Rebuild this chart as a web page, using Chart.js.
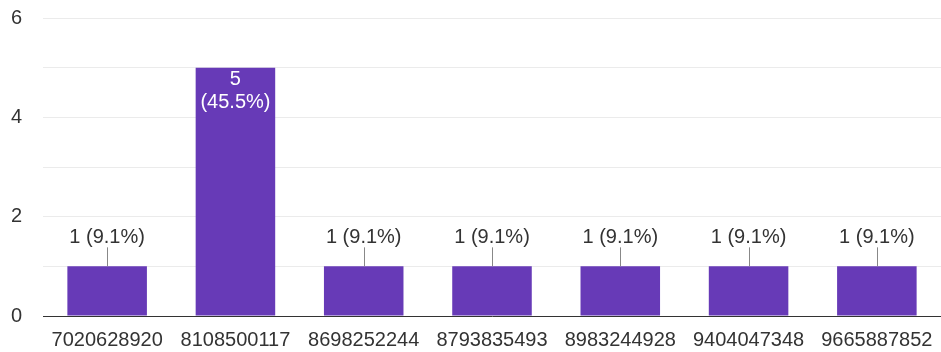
<!DOCTYPE html>
<html lang="en">
<head>
    <meta charset="UTF-8">
    <title>Responses</title>
    <style>
        body { margin: 0; background: #fff; }
        #wrap { width: 941px; height: 352px; position: relative; }
    </style>
</head>
<body>
    <div id="wrap"><canvas id="chart"></canvas></div>

    <script src="https://cdn.jsdelivr.net/npm/chart.js"></script>
    <script>
        // data
        const categories = ['7020628920', '8108500117', '8698252244', '8793835493', '8983244928', '9404047348', '9665887852'];
        const counts = [1, 5, 1, 1, 1, 1, 1];
        const yTicks = [0, 2, 4, 6];

        const total = counts.reduce((a, b) => a + b, 0);
        const FONT = '"Liberation Sans", Arial, sans-serif';

        // draws the "n (p%)" labels like Google Forms does
        const barLabels = {
            id: 'barLabels',
            afterDatasetsDraw(chart) {
                const ctx = chart.ctx;
                const meta = chart.getDatasetMeta(0);
                ctx.save();
                ctx.font = '20px ' + FONT;
                ctx.textAlign = 'center';
                ctx.textBaseline = 'middle';
                meta.data.forEach((bar, i) => {
                    const v = counts[i];
                    const pct = (v / total * 100).toFixed(1) + '%';
                    if (v >= 3) {
                        ctx.fillStyle = '#ffffff';
                        ctx.fillText(String(v), bar.x, bar.y + 12);
                        ctx.fillText('(' + pct + ')', bar.x, bar.y + 35);
                    } else {
                        ctx.strokeStyle = '#888';
                        ctx.lineWidth = 1;
                        ctx.beginPath();
                        ctx.moveTo(Math.round(bar.x) + 0.5, bar.y);
                        ctx.lineTo(Math.round(bar.x) + 0.5, bar.y - 19);
                        ctx.stroke();
                        ctx.fillStyle = '#333';
                        ctx.fillText(v + ' (' + pct + ')', bar.x, bar.y - 29);
                    }
                });
                ctx.restore();
            }
        };

        new Chart(document.getElementById('chart'), {
            type: 'bar',
            data: {
                labels: categories,
                datasets: [{
                    data: counts,
                    backgroundColor: '#673ab7',
                    barPercentage: 0.62,
                    categoryPercentage: 1.0
                }]
            },
            options: {
                responsive: true,
                maintainAspectRatio: false,
                animation: false,
                layout: { padding: { top: 18, right: 0, left: 11, bottom: 0 } },
                plugins: {
                    legend: { display: false },
                    tooltip: { enabled: false }
                },
                scales: {
                    x: {
                        grid: { display: false, drawTicks: false },
                        border: { color: '#333', width: 1 },
                        ticks: { color: '#333', font: { family: FONT, size: 20 }, padding: 12, maxRotation: 0, autoSkip: false },
                        // labels already fit inside their categories, no extra side padding
                        afterFit: (s) => { s.paddingLeft = 0; s.paddingRight = 0; s.height = 36; }
                    },
                    y: {
                        min: 0,
                        max: 6,
                        grid: { color: '#ebebeb', drawTicks: false },
                        border: { display: false },
                        ticks: {
                            stepSize: 1,
                            color: '#333',
                            font: { family: FONT, size: 20 },
                            padding: 21,
                            callback: (val) => yTicks.includes(val) ? val : ''
                        },
                        afterFit: (s) => { s.paddingTop = 0; s.paddingBottom = 0; s.width = 32; }
                    }
                }
            },
            plugins: [barLabels]
        });
    </script>
</body>
</html>
